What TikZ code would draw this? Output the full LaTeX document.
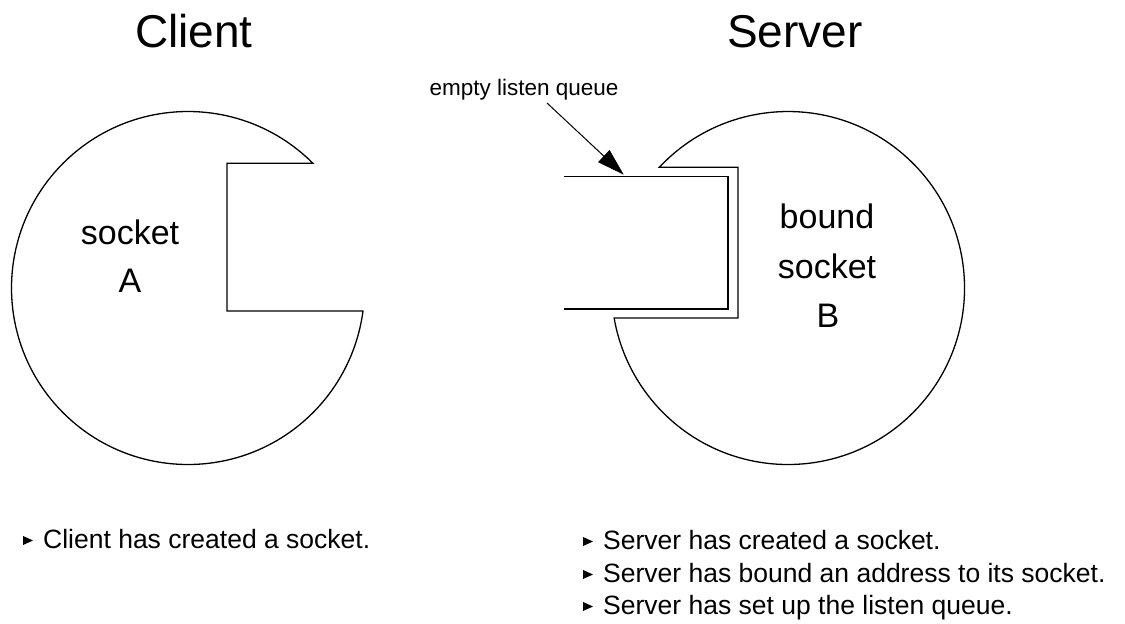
\documentclass[tikz,border=0pt]{standalone}
\usepackage{fontspec}
\setmainfont{Liberation Sans}
\tikzset{
  outline/.style={draw=black, line width=1.3pt, line join=miter},
  title/.style={anchor=base, inner sep=0pt, font=\fontsize{46}{50}\selectfont},
  inlabel/.style={anchor=base, inner sep=0pt, font=\fontsize{34}{38}\selectfont},
  note/.style={anchor=base west, inner sep=0pt, font=\fontsize{26.5}{30}\selectfont},
  small/.style={anchor=base, inner sep=0pt, font=\fontsize{22.5}{26}\selectfont},
  pointer/.style={draw=black, line width=1pt, shorten >=10pt},
  headfill/.style={fill=black, draw=black, line width=0.5pt, line join=miter},
  bullet/.style={fill=black}
}
\begin{document}
\begin{tikzpicture}[x=1pt,y=1pt]
\useasboundingbox[fill=white] (0,0) rectangle (1125,-624);

% titles
\node[title] (client) at (194,-47) {Client};
\node[title] (server) at (795,-47) {Server};

% client socket A
\draw[outline] (312.8,-163.2) arc[start angle=45, end angle=352.5, radius=176.5]
  -- (227,-311.0) -- (227,-163.2) -- cycle;
\node[inlabel] (sockA) at (130,-244) {socket};
\node[inlabel] (labA) at (130,-292) {A};

% server socket B
\draw[outline] (659.4,-167.2) arc[start angle=136.8, end angle=-170.2, radius=176.5]
  -- (738,-318) -- (738,-167.2) -- cycle;
\node[inlabel] (bound) at (827,-228) {bound};
\node[inlabel] (sockB) at (827,-278) {socket};
\node[inlabel] (labB) at (828,-327) {B};

% listen queue
\draw[outline] (564,-176.5) -- (728,-176.5) -- (728,-309) -- (564,-309);
\node[small] (elq) at (524,-95) {empty listen queue};
\coordinate (arrs) at (547,-103);
\coordinate (arrt) at (623,-174);
\coordinate (hl) at (609.5,-150.4);
\coordinate (hr) at (598.5,-162.1);
\draw[pointer] (arrs) -- (arrt);
\fill[headfill] (arrt) -- (hl) -- (hr) -- cycle;

% notes
\node[note] (n1) at (43,-548) {Client has created a socket.};
\node[note] (s1) at (603,-549) {Server has created a socket.};
\node[note] (s2) at (603,-582) {Server has bound an address to its socket.};
\node[note] (s3) at (603,-614) {Server has set up the listen queue.};
\foreach \xx/\yy in {23/-548, 583/-549, 583/-582, 583/-614}{
  \fill[bullet] (\xx,\yy+3) -- (\xx+10,\yy+7.5) -- (\xx,\yy+12) -- cycle;
}
\end{tikzpicture}
\end{document}
